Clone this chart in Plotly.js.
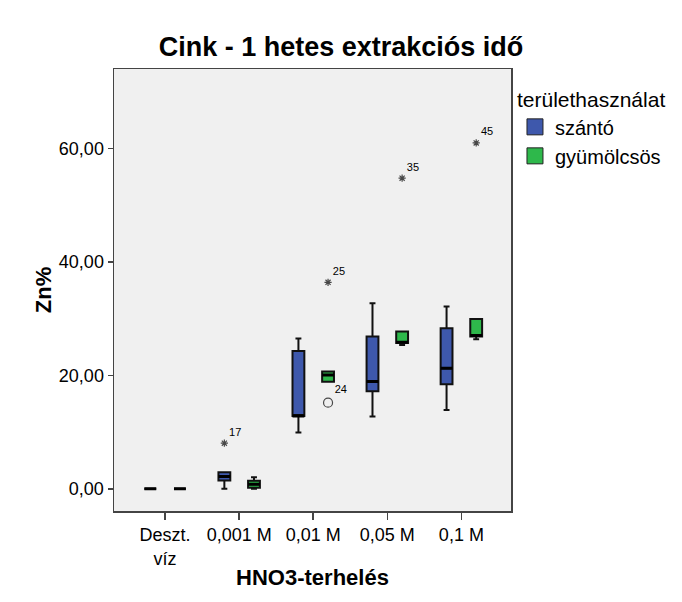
<!DOCTYPE html>
<html>
<head>
<meta charset="utf-8">
<script src="https://cdn.plot.ly/plotly-3.0.1.min.js"></script>
<style>html,body{margin:0;padding:0;background:#fff;}</style>
</head>
<body>
<div id="chart" style="width:682px;height:602px;"></div>
<script>
// Categories (x axis)
const categories = ["Deszt.<br>víz", "0,001 M", "0,01 M", "0,05 M", "0,1 M"];

// Series: szántó (box statistics)
const szantoMin    = [0, 0,    9.92, 12.74, 13.92];
const szantoQ1     = [0, 1.46, 12.86, 17.22, 18.45];
const szantoMedian = [0, 2.17, 12.86, 18.91, 21.27];
const szantoQ3     = [0, 2.94, 24.30, 26.84, 28.32];
const szantoMax    = [0, 2.94, 26.50, 32.72, 32.12];

// Series: gyümölcsös (box statistics)
const gyumMin    = [0, 0,    18.90, 25.37, 26.38];
const gyumQ1     = [0, 0.18, 18.90, 25.73, 26.84];
const gyumMedian = [0, 0.83, 20.09, 25.85, 27.01];
const gyumQ3     = [0, 1.41, 20.67, 27.72, 29.96];
const gyumMax    = [0, 2.06, 20.67, 27.72, 29.96];

// Outliers
const szantoOutCat   = ["0,001 M"];
const szantoOutVal   = [8.05];
const szantoOutLabel = ["17"];
const szantoOutKind  = ["extreme"];

const gyumOutCat   = ["0,01 M", "0,01 M", "0,05 M", "0,1 M"];
const gyumOutVal   = [15.2, 36.4, 54.75, 60.97];
const gyumOutLabel = ["24", "25", "35", "45"];
const gyumOutKind  = ["outlier", "extreme", "extreme", "extreme"];

const seriesNames = ["szántó", "gyümölcsös"];
const yTicks = [0, 20, 40, 60];

const BLUE = "#3e58ac";
const GREEN = "#2eb84b";
const FONT = "Liberation Sans, Arial, sans-serif";

function boxTrace(name, group, color, lo, q1, med, q3, hi) {
  return {
    type: "box", name: name, x: categories, offsetgroup: group, alignmentgroup: "g",
    lowerfence: lo, q1: q1, median: med, q3: q3, upperfence: hi,
    fillcolor: color, line: {color: "#111", width: 2},
    whiskerwidth: 0.5, showlegend: false, hoverinfo: "skip", boxpoints: false
  };
}
function medianTrace(group, med) {
  return {
    type: "box", x: categories, offsetgroup: group, alignmentgroup: "g",
    lowerfence: med, q1: med, median: med, q3: med, upperfence: med,
    fillcolor: "rgba(0,0,0,0)", line: {color: "#000", width: 3},
    whiskerwidth: 0, showlegend: false, hoverinfo: "skip", boxpoints: false
  };
}
function outlierTrace(group, cats, vals, labels, kinds) {
  return {
    type: "scatter", mode: "markers+text", x: cats, y: vals, text: labels,
    offsetgroup: group, alignmentgroup: "g",
    textposition: "top right", textfont: {family: FONT, size: 11, color: "#000"},
    marker: {
      symbol: kinds.map(k => k === "extreme" ? "asterisk-open" : "circle-open"),
      size: kinds.map(k => k === "extreme" ? 6 : 9),
      color: "#000", line: {color: "#000", width: 1.2}
    },
    showlegend: false, hoverinfo: "skip", cliponaxis: false
  };
}
function legendTrace(name, group, color) {
  return {
    type: "scatter", mode: "markers", x: [null], y: [null], name: name,
    offsetgroup: group, alignmentgroup: "g",
    marker: {symbol: "square", size: 16, color: color, line: {color: "#222", width: 1}},
    showlegend: true
  };
}

const data = [
  boxTrace(seriesNames[0], "a", BLUE, szantoMin, szantoQ1, szantoMedian, szantoQ3, szantoMax),
  boxTrace(seriesNames[1], "b", GREEN, gyumMin, gyumQ1, gyumMedian, gyumQ3, gyumMax),
  medianTrace("a", szantoMedian),
  medianTrace("b", gyumMedian),
  outlierTrace("a", szantoOutCat, szantoOutVal, szantoOutLabel, szantoOutKind),
  outlierTrace("b", gyumOutCat, gyumOutVal, gyumOutLabel, gyumOutKind),
  legendTrace(seriesNames[0], "a", BLUE),
  legendTrace(seriesNames[1], "b", GREEN)
];

const layout = {
  width: 682, height: 602,
  margin: {l: 114, r: 171, t: 69, b: 91},
  paper_bgcolor: "#fff", plot_bgcolor: "#f0f0f0",
  separators: ", ",
  font: {family: FONT, color: "#000"},
  boxmode: "group", boxgap: 0.2, boxgroupgap: 0.6,
  scattermode: "group", scattergap: 0.2,
  title: {
    text: "<b>Cink - 1 hetes extrakciós idő</b>",
    font: {family: FONT, size: 27, color: "#000"},
    xref: "container", x: 0.5, xanchor: "center",
    yref: "container", y: 1 - 47 / 602, yanchor: "middle"
  },
  xaxis: {
    type: "category", categoryorder: "array", categoryarray: categories,
    range: [-0.69, 4.67],
    showline: true, linecolor: "#444", linewidth: 1.5, mirror: true,
    ticks: "outside", ticklen: 7, tickcolor: "#444", tickwidth: 1.5,
    tickfont: {family: FONT, size: 18, color: "#000"},
    showgrid: false, zeroline: false,
    title: {text: "<b>HNO3-terhelés</b>", font: {family: FONT, size: 22, color: "#000"}, standoff: 2}
  },
  yaxis: {
    range: [-3.9, 74], tickvals: yTicks, tickformat: ".2f",
    showline: true, linecolor: "#444", linewidth: 1.5, mirror: true,
    ticks: "outside", ticklen: 5, tickcolor: "#444", tickwidth: 1.5,
    tickfont: {family: FONT, size: 18, color: "#000"},
    showgrid: false, zeroline: false,
    title: {text: "<b>Zn%</b>", font: {family: FONT, size: 22, color: "#000"}, standoff: 1}
  },
  legend: {
    x: 1.01, xanchor: "left", y: 0.975, yanchor: "top",
    bgcolor: "rgba(0,0,0,0)", borderwidth: 0,
    font: {family: FONT, size: 20, color: "#000"},
    title: {text: "területhasználat", font: {family: FONT, size: 21, color: "#000"}},
    itemwidth: 30, tracegroupgap: 0
  },
  showlegend: true
};

Plotly.newPlot("chart", data, layout, {displayModeBar: false, staticPlot: true});
</script>
</body>
</html>
